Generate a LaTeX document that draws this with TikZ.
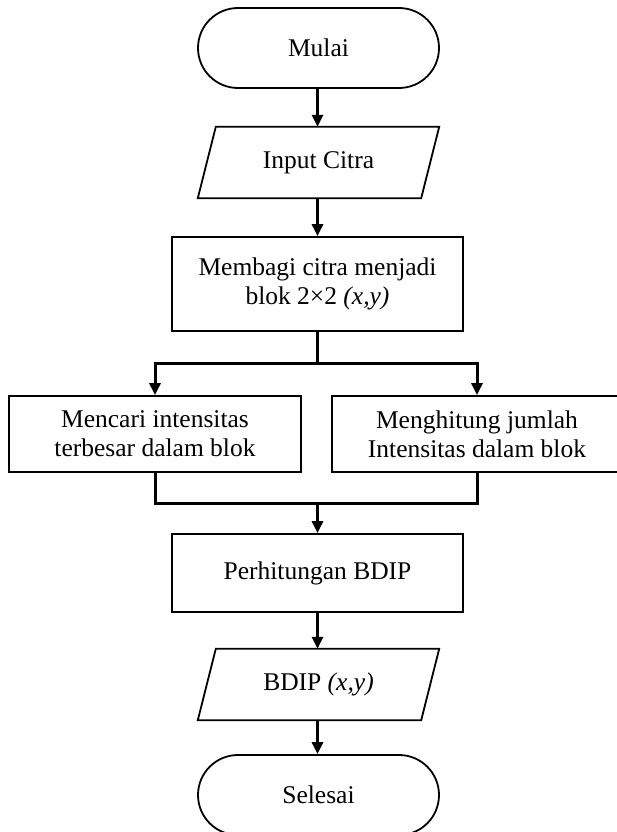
\documentclass[tikz,border=0pt]{standalone}
\usepackage{fontspec}
\setmainfont{Liberation Serif}
\usetikzlibrary{arrows.meta}
\begin{document}
\begin{tikzpicture}[x=1pt,y=-1pt,
  every node/.style={font=\fontsize{25.5}{29}\selectfont, align=center, inner sep=0pt},
  box/.style={draw, line width=1.8pt, rectangle, minimum width=291pt, minimum height=#1},
  term/.style={draw, line width=1.8pt, rectangle, rounded corners=40pt, minimum width=241pt, minimum height=80pt},
  io/.style={rectangle, minimum width=223pt, minimum height=71pt},
  conn/.style={line width=3pt},
  arr/.style={line width=3pt, -{Triangle[length=12pt,width=11pt]}}
]
\useasboundingbox (0,0) rectangle (616,832);

\node[term] (start) at (318.5,48) {Mulai};
\node[io] (in) at (318.5,162.5) {Input Citra};
\draw[line width=1.8pt] ([xshift=-9pt]in.south west) -- ([xshift=-9pt]in.south east)
  -- ([xshift=9pt]in.north east) -- ([xshift=9pt]in.north west) -- cycle;
\node[box=94pt] (split) at (317.5,284) {Membagi citra menjadi\\blok 2×2 \textit{(x,y)}};
\node[box=76pt, minimum width=292pt] (left) at (155,434) {Mencari intensitas\\terbesar dalam blok};
\node[box=76pt, minimum width=290pt] (right) at (477,434) {Menghitung jumlah\\Intensitas dalam blok};
\node[box=78pt] (calc) at (317.5,573) {Perhitungan BDIP};
\node[io] (out) at (318.5,684.5) {BDIP \textit{(x,y)}};
\draw[line width=1.8pt] ([xshift=-9pt]out.south west) -- ([xshift=-9pt]out.south east)
  -- ([xshift=9pt]out.north east) -- ([xshift=9pt]out.north west) -- cycle;
\node[term] (end) at (318.5,795) {Selesai};

\coordinate (j1) at (317.5,363);
\coordinate (j2) at (317.5,503);

\draw[arr] (start.south -| 317.5,0) -- (in.north -| 317.5,0);
\draw[arr] (in.south -| 317.5,0) -- (split.north);
\draw[conn] (split.south) -- (j1);
\draw[arr] (j1) -| (left.north);
\draw[arr] (j1) -| (right.north);
\draw[conn] (left.south) |- (j2) -| (right.south);
\draw[arr] (j2) -- (calc.north);
\draw[arr] (calc.south) -- (out.north -| 317.5,0);
\draw[arr] (out.south -| 317.5,0) -- (end.north -| 317.5,0);
\end{tikzpicture}
\end{document}
